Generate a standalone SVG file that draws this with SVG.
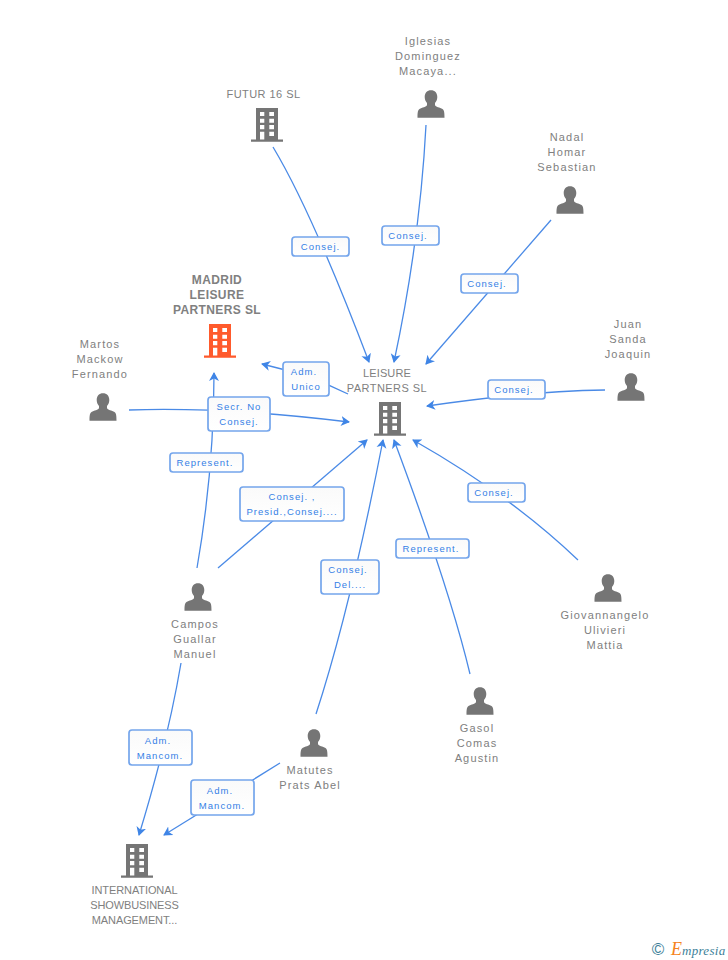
<svg xmlns="http://www.w3.org/2000/svg" width="728" height="960" viewBox="0 0 728 960">
<style>
text{font-family:"Liberation Sans",Arial,sans-serif}
.n{font-size:11px;fill:#808080;text-anchor:middle;letter-spacing:1.15px}
.u{letter-spacing:.45px}
.b{font-weight:bold;font-size:12px;letter-spacing:.4px}
.l{font-size:9.5px;fill:#3580e6;text-anchor:middle;letter-spacing:1.05px}
.c{fill:none;stroke:#4a8ae6;stroke-width:1.300;marker-end:url(#a)}
.r{fill:url(#g);stroke:#74a5ec;stroke-width:1.700}
</style>
<defs>
<linearGradient id="g" x1="0" y1="0" x2="0" y2="1"><stop offset="0" stop-color="#fafafa"/><stop offset="1" stop-color="#fff"/></linearGradient>
<marker id="a" markerUnits="userSpaceOnUse" markerWidth="14" markerHeight="14" refX="8" refY="6" orient="auto"><path d="M0 1L9 6L0 11L2.500 6Z" fill="#3f85e6"/></marker>
<g id="bld"><path d="M-11-17H11V14.500H16V16.800H-16V14.500H-11Z" fill="currentColor"/><path d="M-7-13H-2.700V-9H-7ZM2.300-13H7V-9H2.300ZM-7-6.300H-2.700V-2.300H-7ZM2.300-6.300H7V-2.300H2.300ZM-7 0H-2.700V4.300H-7ZM2.300 0H7V4.300H2.300ZM-7 6.700H-2.700V14.500H-7ZM2.300 6.700H7V11H2.300Z" fill="#fff"/></g>
<path id="per" d="M1-13.700C4.800-13.700 7.300-11 7.300-7C7.300-4.500 6.300-2.500 5-1V1C5.500 3 10 3.500 12.500 5C14 6 14.500 8 14.500 13.700H-12.500C-12.500 8-12 6-10.500 5C-8 3.500-3.500 3-3 1V-1C-4.300-2.500-5.300-4.500-5.300-7C-5.300-11-2.800-13.700 1-13.700Z" fill="#757575"/>
</defs>
<g id="connectors">
<path class="c" d="M273 147Q312 212 369 362"/>
<path class="c" d="M426 125Q420 240 394 362"/>
<path class="c" d="M551 220Q490 290 426 364"/>
<path class="c" d="M605 390Q530 391 427 406"/>
<path class="c" d="M578 560Q510 495 413 440"/>
<path class="c" d="M470 674Q450 590 394 440"/>
<path class="c" d="M316 714Q350 610 383 440"/>
<path class="c" d="M218 568L367 440"/>
<path class="c" d="M129 410C190 408 260 411 349 422"/>
<path class="c" d="M348 394Q310 375 262 364"/>
<path class="c" d="M197 568Q214 470 214 373"/>
<path class="c" d="M181 663Q168 740 139 835"/>
<path class="c" d="M280 763L164 835"/>
</g>
<g id="labels">
<g><rect class="r" x="292" y="237" width="57" height="19" rx="3"/><text class="l" x="320.500" y="250">Consej.</text></g>
<g><rect class="r" x="382" y="226" width="57" height="19" rx="3"/><text class="l" x="408" y="239">Consej.</text></g>
<g><rect class="r" x="461" y="274" width="57" height="19" rx="3"/><text class="l" x="487" y="287">Consej.</text></g>
<g><rect class="r" x="488" y="380" width="57" height="19" rx="3"/><text class="l" x="514" y="393">Consej.</text></g>
<g><rect class="r" x="468" y="483" width="57" height="19" rx="3"/><text class="l" x="494" y="496">Consej.</text></g>
<g><rect class="r" x="396" y="539" width="73" height="19" rx="3"/><text class="l" x="431" y="552">Represent.</text></g>
<g><rect class="r" x="170" y="453" width="73" height="19" rx="3"/><text class="l" x="205" y="466">Represent.</text></g>
<g><rect class="r" x="283" y="362" width="46" height="34" rx="3"/><text class="l" x="304" y="375">Adm.</text><text class="l" x="306" y="390">Unico</text></g>
<g><rect class="r" x="208" y="397" width="62" height="34" rx="3"/><text class="l" x="239" y="410">Secr. No</text><text class="l" x="239" y="425">Consej.</text></g>
<g><rect class="r" x="240" y="487" width="104" height="34" rx="3"/><text class="l" x="292" y="500">Consej. ,</text><text class="l" x="292" y="515">Presid.,Consej....</text></g>
<g><rect class="r" x="321" y="560" width="58" height="34" rx="3"/><text class="l" x="348" y="573">Consej.</text><text class="l" x="350" y="588">Del....</text></g>
<g><rect class="r" x="129" y="730" width="63" height="35" rx="3"/><text class="l" x="158" y="744">Adm.</text><text class="l" x="160" y="759">Mancom.</text></g>
<g><rect class="r" x="191" y="780" width="63" height="35" rx="3"/><text class="l" x="220" y="794">Adm.</text><text class="l" x="222" y="809">Mancom.</text></g>
</g>
<g id="futur" color="#757575"><text class="n u" x="263.500" y="98">FUTUR 16 SL</text><use href="#bld" x="267" y="125"/></g>
<g id="iglesias"><text class="n" x="428" y="45">Iglesias</text><text class="n" x="428" y="60">Dominguez</text><text class="n" x="428" y="75">Macaya...</text><use href="#per" x="430" y="104"/></g>
<g id="nadal"><text class="n" x="567" y="141">Nadal</text><text class="n" x="567" y="156">Homar</text><text class="n" x="567" y="171">Sebastian</text><use href="#per" x="569" y="200"/></g>
<g id="juan"><text class="n" x="628" y="328">Juan</text><text class="n" x="628" y="343">Sanda</text><text class="n" x="628" y="358">Joaquin</text><use href="#per" x="630" y="387"/></g>
<g id="leisure" color="#757575"><text class="n" style="letter-spacing:.1px" x="387" y="377">LEISURE</text><text class="n u" x="387" y="392">PARTNERS SL</text><use href="#bld" x="390" y="419"/></g>
<g id="madrid" color="#ff5a2c"><text class="n b" x="217" y="284">MADRID</text><text class="n b" x="217" y="299">LEISURE</text><text class="n b" x="217" y="314">PARTNERS SL</text><use href="#bld" x="220" y="341"/></g>
<g id="martos"><text class="n" x="100" y="348">Martos</text><text class="n" x="100" y="363">Mackow</text><text class="n" x="100" y="378">Fernando</text><use href="#per" x="102" y="407"/></g>
<g id="campos"><use href="#per" x="197" y="597"/><text class="n" x="195" y="628">Campos</text><text class="n" x="195" y="643">Guallar</text><text class="n" x="195" y="658">Manuel</text></g>
<g id="giovannangelo"><use href="#per" x="607" y="588"/><text class="n" x="605" y="619">Giovannangelo</text><text class="n" x="605" y="634">Ulivieri</text><text class="n" x="605" y="649">Mattia</text></g>
<g id="gasol"><use href="#per" x="479" y="701"/><text class="n" x="477" y="732">Gasol</text><text class="n" x="477" y="747">Comas</text><text class="n" x="477" y="762">Agustin</text></g>
<g id="matutes"><use href="#per" x="313" y="743"/><text class="n" x="310" y="774">Matutes</text><text class="n" x="310" y="789">Prats Abel</text></g>
<g id="international" color="#757575"><use href="#bld" x="137" y="861"/><text class="n" style="letter-spacing:-.1px" x="134.500" y="894">INTERNATIONAL</text><text class="n" style="letter-spacing:-.1px" x="134.500" y="909">SHOWBUSINESS</text><text class="n" style="letter-spacing:-.1px" x="134.500" y="924">MANAGEMENT...</text></g>
<g id="logo"><text x="658" y="955" font-size="17" fill="#3d7f99" text-anchor="middle">©</text><text x="671" y="955" font-style="italic" fill="#3d7f99" style="font-family:'Liberation Serif',serif"><tspan font-size="18" fill="#f58220">E</tspan><tspan font-size="13" letter-spacing=".3">mpresia</tspan></text></g>
</svg>
